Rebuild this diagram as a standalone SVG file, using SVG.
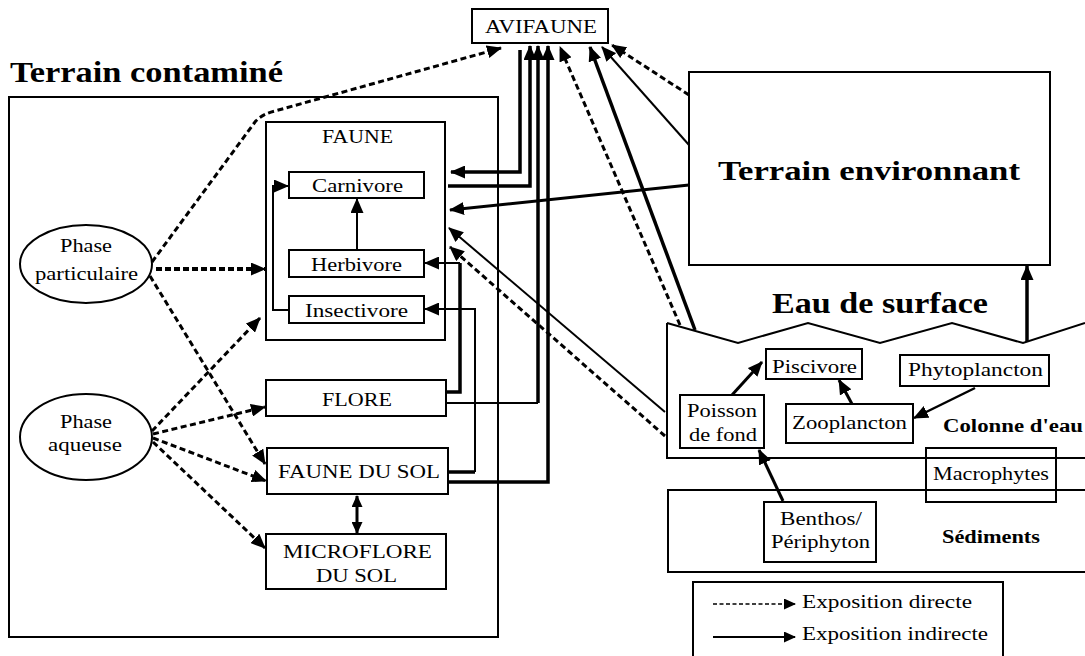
<svg xmlns="http://www.w3.org/2000/svg" width="1085" height="656" viewBox="0 0 1085 656">
<style>
text{font-family:"Liberation Serif","Times New Roman",serif;font-size:19px;fill:#000}
.b{font-weight:bold}
.s{font-size:18.5px}
.box{fill:#fff;stroke:#000;stroke-width:2}
.frame{fill:none;stroke:#000;stroke-width:2}
.c{fill:none;stroke:#000}
.thin{stroke-width:2}
.thick{stroke-width:3.5}
.dash{stroke-width:3;stroke-dasharray:6 3.5}
.dashb{stroke-width:4;stroke-dasharray:6 3}
</style>
<defs>
<marker id="ah" markerUnits="userSpaceOnUse" markerWidth="15" markerHeight="13" refX="14" refY="6.5" orient="auto" viewBox="0 0 15 13">
<path d="M0,0 L15,6.5 L0,13 z" fill="#000"/>
</marker>
<marker id="ahs" markerUnits="userSpaceOnUse" markerWidth="12" markerHeight="11" refX="11" refY="5.5" orient="auto-start-reverse" viewBox="0 0 12 11">
<path d="M0,0 L12,5.5 L0,11 z" fill="#000"/>
</marker>
</defs>
<rect width="1085" height="656" fill="#fff"/>

<g id="terrain-contamine">
<rect x="9" y="97" width="489" height="540" class="frame"/>
<text x="10" y="82" class="b" style="font-size:29px" textLength="273" lengthAdjust="spacingAndGlyphs">Terrain contaminé</text>
</g>

<g id="avifaune">
<rect x="472" y="9" width="136" height="34" class="box"/>
<text x="485" y="33" textLength="112" lengthAdjust="spacingAndGlyphs">AVIFAUNE</text>
</g>

<g id="faune">
<rect x="266" y="122" width="179" height="218" class="frame"/>
<text x="322" y="143" textLength="71" lengthAdjust="spacingAndGlyphs">FAUNE</text>
</g>
<g id="carnivore">
<rect x="289" y="172" width="135" height="26" class="box"/>
<text x="312" y="192" textLength="91" lengthAdjust="spacingAndGlyphs">Carnivore</text>
</g>
<g id="herbivore">
<rect x="289" y="250" width="135" height="27" class="box"/>
<text x="311" y="271" textLength="91" lengthAdjust="spacingAndGlyphs">Herbivore</text>
</g>
<g id="insectivore">
<rect x="289" y="296" width="135" height="27" class="box"/>
<text x="305" y="317" textLength="103" lengthAdjust="spacingAndGlyphs">Insectivore</text>
</g>

<g id="phase-particulaire">
<ellipse cx="86" cy="264" rx="66" ry="39" class="box"/>
<text x="60" y="252" textLength="52" lengthAdjust="spacingAndGlyphs">Phase</text>
<text x="35" y="280" textLength="103" lengthAdjust="spacingAndGlyphs">particulaire</text>
</g>
<g id="phase-aqueuse">
<ellipse cx="86" cy="437" rx="66" ry="43" class="box"/>
<text x="60" y="428" textLength="52" lengthAdjust="spacingAndGlyphs">Phase</text>
<text x="48" y="451" textLength="74" lengthAdjust="spacingAndGlyphs">aqueuse</text>
</g>

<g id="flore">
<rect x="266" y="380" width="180" height="36" class="box"/>
<text x="322" y="406" textLength="70" lengthAdjust="spacingAndGlyphs">FLORE</text>
</g>
<g id="faune-du-sol">
<rect x="267" y="448" width="181" height="46" class="box"/>
<text x="278" y="478" textLength="162" lengthAdjust="spacingAndGlyphs">FAUNE DU SOL</text>
</g>
<g id="microflore">
<rect x="266" y="534" width="180" height="55" class="box"/>
<text x="283" y="558" textLength="149" lengthAdjust="spacingAndGlyphs">MICROFLORE</text>
<text x="316" y="582" textLength="81" lengthAdjust="spacingAndGlyphs">DU SOL</text>
</g>

<g id="terrain-environnant">
<rect x="689" y="72" width="361" height="193" class="box"/>
<text x="718" y="180" class="b" style="font-size:27px" textLength="302" lengthAdjust="spacingAndGlyphs">Terrain environnant</text>
</g>

<g id="eau-de-surface">
<path d="M667,323 L738,343 L808,323 L880,343 L952,323 L1023,343 L1085,323" class="frame"/>
<path d="M667,323 L667,458 L1085,458" class="frame"/>
<text x="772" y="313" class="b" style="font-size:29px" textLength="216" lengthAdjust="spacingAndGlyphs">Eau de surface</text>
<text x="943" y="432" class="b" style="font-size:18px" textLength="140" lengthAdjust="spacingAndGlyphs">Colonne d'eau</text>
</g>
<g id="sediments">
<path d="M1085,490 L668,490 L668,572 L1085,572" class="frame"/>
<text x="942" y="543" class="b" style="font-size:18px" textLength="98" lengthAdjust="spacingAndGlyphs">Sédiments</text>
</g>
<g id="piscivore">
<rect x="766" y="349" width="96" height="30" class="box"/>
<text x="772" y="373" class="s" textLength="85" lengthAdjust="spacingAndGlyphs">Piscivore</text>
</g>
<g id="phytoplancton">
<rect x="900" y="355" width="149" height="31" class="box"/>
<text x="908" y="376" class="s" textLength="135" lengthAdjust="spacingAndGlyphs">Phytoplancton</text>
</g>
<g id="poisson-de-fond">
<rect x="680" y="395" width="84" height="53" class="box"/>
<text x="687" y="417" class="s" textLength="70" lengthAdjust="spacingAndGlyphs">Poisson</text>
<text x="689" y="441" class="s" textLength="68" lengthAdjust="spacingAndGlyphs">de fond</text>
</g>
<g id="zooplancton">
<rect x="786" y="404" width="127" height="39" class="box"/>
<text x="792" y="429" class="s" textLength="115" lengthAdjust="spacingAndGlyphs">Zooplancton</text>
</g>
<g id="macrophytes">
<rect x="926" y="448" width="130" height="54" class="frame"/>
<text x="933" y="480" class="s" textLength="116" lengthAdjust="spacingAndGlyphs">Macrophytes</text>
</g>
<g id="benthos">
<rect x="764" y="502" width="112" height="60" class="box"/>
<text x="780" y="525" class="s" textLength="82" lengthAdjust="spacingAndGlyphs">Benthos/</text>
<text x="771" y="548" class="s" textLength="99" lengthAdjust="spacingAndGlyphs">Périphyton</text>
</g>

<g id="connectors">
<path d="M152,262 L255,122 Q262,114 275,111 L501,48" class="c dash" marker-end="url(#ah)"/>
<path d="M156,269 L265,269" class="c dashb" marker-end="url(#ah)"/>
<path d="M150,276 L265,464" class="c dash" marker-end="url(#ah)"/>
<path d="M152,431 L260,318" class="c dash" marker-end="url(#ah)"/>
<path d="M153,434 L265,407" class="c dash" marker-end="url(#ah)"/>
<path d="M153,438 L266,481" class="c dash" marker-end="url(#ah)"/>
<path d="M153,442 L265,548" class="c dash" marker-end="url(#ah)"/>
<path d="M357,250 L357,199" class="c thin" marker-end="url(#ah)"/>
<path d="M289,310 L273,310 L273,186 L288,186" class="c thin" marker-end="url(#ah)"/>
<path d="M447,392 L460,392 L460,263" class="c thick"/>
<path d="M460,263 L425,263" class="c thin" marker-end="url(#ah)"/>
<path d="M449,472 L475,472" class="c thick"/>
<path d="M475,472 L475,309 L425,309" class="c thin" marker-end="url(#ah)"/>
<path d="M520,50 L520,172 L451,172" class="c thick" marker-end="url(#ah)"/>
<path d="M448,186 L530,186 L530,46" class="c thick" marker-end="url(#ah)"/>
<path d="M447,403 L538,403" class="c thin"/>
<path d="M538,403 L538,46" class="c thick" marker-end="url(#ah)"/>
<path d="M449,482 L548,482 L548,46" class="c thick" marker-end="url(#ah)"/>
<path d="M680,325 L560,47" class="c dash" marker-end="url(#ah)"/>
<path d="M695,330 L590,47" class="c thick" marker-end="url(#ah)"/>
<path d="M689,145 L602,47" class="c thin" marker-end="url(#ah)"/>
<path d="M689,95 L612,45" class="c dash" marker-end="url(#ah)"/>
<path d="M689,185 L450,210" class="c" style="stroke-width:3" marker-end="url(#ah)"/>
<path d="M665,412 L449,228" class="c thin" marker-end="url(#ah)"/>
<path d="M665,436 L450,247" class="c dash" marker-end="url(#ah)"/>
<path d="M1027,342 L1027,266" class="c thick" marker-end="url(#ah)"/>
<path d="M732,395 L762,362" class="c" style="stroke-width:3" marker-end="url(#ah)"/>
<path d="M852,404 L839,380" class="c" style="stroke-width:3" marker-end="url(#ah)"/>
<path d="M975,388 L914,418" class="c" style="stroke-width:2.5" marker-end="url(#ah)"/>
<path d="M783,501 L759,450" class="c" style="stroke-width:3" marker-end="url(#ah)"/>
<path d="M357,496 L357,533" class="c" style="stroke-width:3" marker-start="url(#ahs)" marker-end="url(#ahs)"/>
</g>

<g id="legend">
<rect x="693" y="582" width="310" height="80" class="frame"/>
<path d="M713,604 L795,604" class="c" style="stroke-width:1.5;stroke-dasharray:4 2.5" marker-end="url(#ahs)"/>
<path d="M713,637 L795,637" class="c thin" marker-end="url(#ahs)"/>
<text x="802" y="608" class="s" textLength="170" lengthAdjust="spacingAndGlyphs">Exposition directe</text>
<text x="802" y="640" class="s" textLength="186" lengthAdjust="spacingAndGlyphs">Exposition indirecte</text>
</g>
</svg>
